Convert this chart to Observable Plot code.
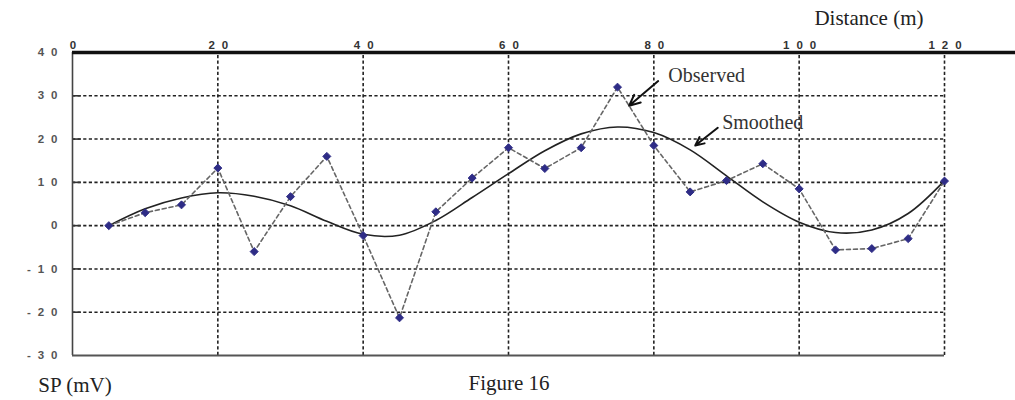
<!DOCTYPE html>
<html>
<head>
<meta charset="utf-8">
<script src="https://cdn.jsdelivr.net/npm/d3@7"></script>
<script src="https://cdn.jsdelivr.net/npm/@observablehq/plot@0.6"></script>
<style>
  html, body { margin: 0; padding: 0; background: #fff; }
</style>
</head>
<body>
<div id="chart"></div>
<script>
// Distance (m)
const distance = [5, 10, 15, 20, 25, 30, 35, 40, 45, 50, 55, 60, 65, 70, 75, 80, 85, 90, 95, 100, 105, 110, 115, 120];
// SP (mV) observed
const observed = [0, 3, 4.8, 13.3, -6, 6.7, 16, -2.3, -21.3, 3.2, 11, 18, 13.2, 18, 32, 18.5, 7.8, 10.4, 14.3, 8.5, -5.6, -5.3, -3, 10.3];
// SP (mV) smoothed
const smoothed = [0, 3.9, 6.4, 7.6, 6.8, 4.6, 1, -2, -2.2, 1.2, 6.5, 12, 17.3, 21.2, 22.8, 21.5, 17.5, 11.5, 5.5, 0.8, -1.6, -1, 2.8, 10.4];

const xTicks = [0, 20, 40, 60, 80, 100, 120];
const yTicks = [40, 30, 20, 10, 0, -10, -20, -30];
const xGrid = [20, 40, 60, 80, 100, 120];
const yGrid = [30, 20, 10, 0, -10, -20];

const labels = [
  {text: "Observed", x: 82.0, y: 34.6, size: 20},
  {text: "Smoothed", x: 89.4, y: 23.8, size: 20}
];
const arrows = [
  {x1: 80.6, y1: 33.4, x2: 76.6, y2: 27.7},
  {x1: 88.8, y1: 22.6, x2: 85.7, y2: 18.5}
];
const titles = [
  {text: "Distance (m)", x: 102.1, y: 47.9, size: 21},
  {text: "SP (mV)", x: -4.7, y: -36.8, size: 21},
  {text: "Figure 16", x: 54.5, y: -36.3, size: 21}
];

const obsData = distance.map((d, i) => ({x: d, y: observed[i]}));
const smoothData = distance.map((d, i) => ({x: d, y: smoothed[i]}));

const plot = Plot.plot({
  width: 1015,
  height: 400,
  marginLeft: 72,
  marginRight: 71,
  marginTop: 52,
  marginBottom: 45,
  style: {background: "#fff", fontFamily: "'Liberation Sans', Arial, sans-serif", overflow: "visible"},
  x: {domain: [0, 120]},
  y: {domain: [-30, 40]},
  marks: [
    // grid
    Plot.ruleY(yGrid, {x1: 0, x2: 120, stroke: "#222", strokeWidth: 1.6, strokeDasharray: "3.2,2.4"}),
    Plot.ruleX(xGrid, {y1: -30, y2: 40, stroke: "#222", strokeWidth: 1.6, strokeDasharray: "3.2,2.4"}),
    Plot.ruleY(yGrid, {x1: 0, x2: 1.2, stroke: "#333", strokeWidth: 1.6}),
    // frame
    Plot.ruleX([0], {y1: -30, y2: 40, stroke: "#444", strokeWidth: 1.6}),
    Plot.ruleY([-30], {x1: 0, x2: 120, stroke: "#555", strokeWidth: 1.8}),
    Plot.ruleY([40], {x1: 0, x2: 130, stroke: "#111", strokeWidth: 3.5, clip: false}),
    // axes
    Plot.axisX(xTicks, {anchor: "top", tickSize: 0, tickPadding: 4, dx: 4, fontWeight: "bold", fill: "#333", label: null, tickFormat: d => String(d)}),
    Plot.axisY(yTicks, {anchor: "left", tickSize: 0, tickPadding: 8, fontWeight: "bold", fill: "#555", label: null, tickFormat: d => String(d)}),
    // data
    Plot.line(smoothData, {x: "x", y: "y", curve: "catmull-rom", stroke: "#222", strokeWidth: 1.6}),
    Plot.line(obsData, {x: "x", y: "y", stroke: "#666", strokeWidth: 1.6, strokeDasharray: "4,3"}),
    Plot.dot(obsData, {x: "x", y: "y", symbol: "diamond2", r: 3.6, fill: "#2e2c86", stroke: "#2e2c86", strokeWidth: 1}),
    // annotations
    Plot.arrow(arrows, {x1: "x1", y1: "y1", x2: "x2", y2: "y2", stroke: "#111", strokeWidth: 2, headLength: 9, headAngle: 50}),
    Plot.text(labels, {x: "x", y: "y", text: "text", fontSize: "size", textAnchor: "start", fontFamily: "'Liberation Serif', 'Times New Roman', serif", fill: "#333"}),
    Plot.text(titles, {x: "x", y: "y", text: "text", fontSize: "size", textAnchor: "start", fontFamily: "'Liberation Serif', 'Times New Roman', serif", fill: "#222", clip: false})
  ]
});
document.getElementById("chart").appendChild(plot);
const svg = d3.select(plot);
svg.selectAll("[aria-label='x-axis tick label'] text, [aria-label='y-axis tick label'] text")
  .style("font-size", "11.5px")
  .attr("letter-spacing", "7px");
</script>
</body>
</html>
